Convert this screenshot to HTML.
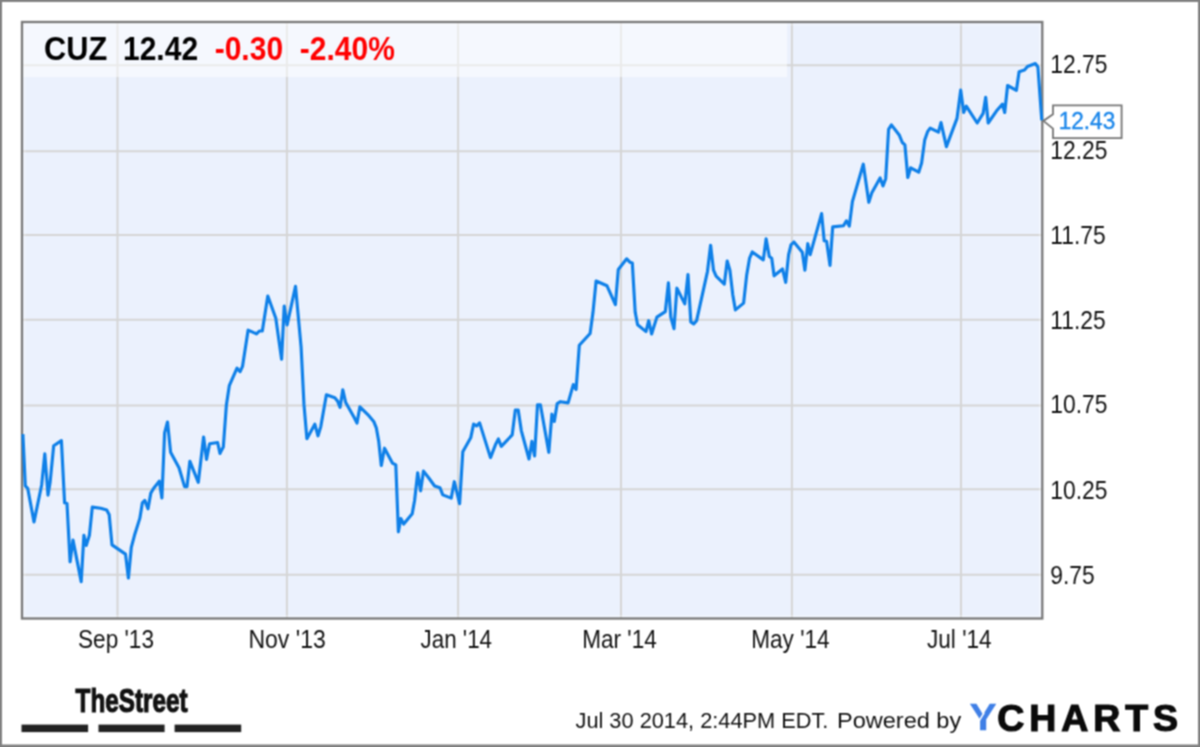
<!DOCTYPE html>
<html lang="en">
<head>
<meta charset="utf-8">
<title>CUZ Chart</title>
<style>
html,body{margin:0;padding:0;background:#fff;}
body{width:1200px;height:747px;overflow:hidden;font-family:"Liberation Sans",sans-serif;}
svg{display:block;}
svg text{font-family:"Liberation Sans",sans-serif;}
.grid line{stroke:#d5d5d5;stroke-width:2;}
</style>
</head>
<body>
<svg width="1200" height="747" viewBox="0 0 1200 747">
<defs><filter id="soft" x="0" y="0" width="1200" height="747" filterUnits="userSpaceOnUse" color-interpolation-filters="sRGB"><feConvolveMatrix order="3" kernelMatrix="1 2 1 2 4 2 1 2 1" divisor="16" edgeMode="duplicate" preserveAlpha="true"/></filter></defs>
<g filter="url(#soft)">
<rect x="0" y="0" width="1200" height="747" fill="#ffffff"/>
<!-- outer frame -->
<path d="M0 0H1200V747H0Z M2 2V744.6H1198V2Z" fill="#808080" fill-rule="evenodd"/>
<!-- plot background -->
<rect x="22" y="22" width="1020.3" height="596.5" fill="#ebf1fd"/>
<g class="grid">
<line x1="117.5" y1="23" x2="117.5" y2="618" />
<line x1="286.9" y1="23" x2="286.9" y2="618" />
<line x1="458.1" y1="23" x2="458.1" y2="618" />
<line x1="621" y1="23" x2="621" y2="618" />
<line x1="791.9" y1="23" x2="791.9" y2="618" />
<line x1="961" y1="23" x2="961" y2="618" />
<line x1="23" y1="65.2" x2="1042" y2="65.2" />
<line x1="23" y1="151.2" x2="1042" y2="151.2" />
<line x1="23" y1="235" x2="1042" y2="235" />
<line x1="23" y1="319.8" x2="1042" y2="319.8" />
<line x1="23" y1="405.4" x2="1042" y2="405.4" />
<line x1="23" y1="489.2" x2="1042" y2="489.2" />
<line x1="23" y1="574.8" x2="1042" y2="574.8" />
</g>
<!-- header overlay -->
<rect x="23" y="23" width="764" height="54" fill="#ffffff" fill-opacity="0.5"/>
<!-- inner highlight + plot border -->
<rect x="24.4" y="24.4" width="1015.6" height="591.8" fill="none" stroke="#ffffff" stroke-opacity="0.35" stroke-width="2"/>
<rect x="22" y="22" width="1020.3" height="596.5" fill="none" stroke="#787878" stroke-width="2.3"/>
<!-- price line -->
<polyline fill="none" stroke="#0f80e8" stroke-width="3.15" stroke-linejoin="round" stroke-linecap="butt" points="22.9,434.1 25.3,485.9 27.7,488.3 34.0,522.0 41.7,484.7 44.8,453.9 48.0,495.1 50.1,482.3 53.7,445.7 61.4,440.6 64.6,502.8 67.0,503.5 70.1,561.8 73.0,540.1 81.2,581.6 83.9,535.3 86.3,545.4 89.4,535.3 92.3,507.1 100.7,508.3 106.7,510.0 109.2,514.8 112.0,544.9 125.5,554.1 128.4,578.0 131.3,547.3 134.5,535.3 139.8,518.4 142.4,502.8 144.8,500.4 148.0,508.8 150.8,493.1 153.7,488.3 159.3,481.1 161.9,498.0 164.6,432.9 167.5,422.0 170.6,452.2 179.0,467.8 184.6,486.6 187.0,486.6 189.9,461.3 198.3,482.3 203.6,437.0 206.5,459.4 209.6,443.7 217.6,442.5 220.0,453.4 220.1,453.1 223.3,447.1 226.4,404.9 229.3,385.7 237.0,368.1 240.1,371.7 242.5,366.4 248.1,330.2 251.0,331.4 256.5,333.9 259.4,331.0 262.3,331.0 267.8,296.0 275.8,318.2 281.6,359.2 284.2,306.1 287.1,324.9 295.5,286.4 301.1,347.1 304.0,404.9 306.9,438.7 314.8,424.2 318.0,435.8 320.8,426.6 326.4,394.8 334.8,397.7 337.7,401.3 340.1,407.3 342.8,389.8 345.7,402.5 353.9,417.0 357.0,423.0 359.9,406.9 367.8,414.6 373.9,421.8 376.3,427.8 378.7,441.1 381.3,465.5 384.5,448.2 392.4,463.1 395.8,464.8 398.4,531.8 400.8,518.6 403.7,524.1 412.2,513.7 414.6,500.5 417.7,472.8 420.6,490.8 423.5,471.1 429.0,478.3 434.6,486.0 439.9,487.7 442.8,494.9 451.2,498.1 454.3,481.7 459.6,503.6 462.8,451.8 470.7,437.8 473.6,424.1 476.7,425.8 479.6,422.9 490.5,457.6 495.8,443.9 498.4,439.0 501.3,446.3 512.2,434.9 515.3,410.1 518.2,410.1 521.3,430.6 529.0,459.0 531.9,441.4 534.6,455.9 537.5,404.8 540.4,404.8 548.8,452.3 551.9,414.2 554.3,421.4 557.2,403.6 560.4,401.7 568.1,402.9 573.3,384.6 576.1,389.4 579.3,345.3 590.1,333.5 593.0,312.3 596.1,281.0 607.0,285.8 615.4,304.6 618.3,269.4 626.7,258.8 629.9,262.2 632.3,262.9 635.2,312.3 637.6,324.8 646.0,331.6 648.7,320.7 651.6,334.0 656.9,317.1 665.3,311.6 668.4,282.9 670.8,317.1 674.0,328.7 676.9,288.2 684.8,303.9 688.0,274.5 690.8,321.9 693.7,323.9 696.6,320.7 707.5,271.3 710.6,245.3 713.5,270.1 716.1,276.1 724.3,284.1 727.2,261.0 729.9,270.1 732.8,294.9 735.4,309.9 743.6,303.1 746.7,274.9 749.6,258.1 752.3,252.0 763.3,259.9 766.1,238.9 769.3,256.5 771.7,258.2 774.1,275.8 782.5,269.0 785.7,282.3 788.6,254.6 791.0,244.9 793.9,242.0 802.3,252.2 804.9,270.2 807.8,243.7 810.2,254.6 821.6,213.6 824.2,240.8 826.6,241.3 830.0,265.4 832.7,226.9 843.5,225.7 846.4,220.8 849.3,226.1 852.4,201.6 863.3,164.2 868.8,202.3 871.7,193.1 880.1,178.0 883.0,185.9 885.7,178.7 888.6,129.3 891.4,124.9 899.4,135.3 902.3,142.5 904.9,144.9 907.8,177.5 910.7,167.8 918.7,172.2 921.6,163.0 924.7,140.1 927.6,131.7 930.2,128.1 938.4,132.2 941.0,122.6 946.4,146.6 957.0,118.4 960.7,90.1 963.7,112.5 966.3,106.1 977.2,123.0 983.1,113.4 985.7,97.3 988.2,123.0 996.6,110.8 1002.5,104.1 1004.7,112.5 1007.6,85.5 1016.4,90.3 1019.1,71.7 1024.5,70.0 1027.5,66.5 1035.4,63.6 1037.9,67.0 1041.8,120.3"/>
<g class="hdr">
<text transform="translate(44 60.4) scale(1.025 1.12)" font-size="30" fill="#000" font-weight="bold">CUZ</text>
<text transform="translate(123 60.4) scale(1.0 1.12)" font-size="30" fill="#000" font-weight="bold">12.42</text>
<text transform="translate(214.7 60.4) scale(1.0 1.12)" font-size="30" fill="#f00" font-weight="bold">-0.30</text>
<text transform="translate(299.8 60.4) scale(1.0 1.12)" font-size="30" fill="#f00" font-weight="bold">-2.40%</text>
</g>
<g class="ylab">
<text transform="translate(1050.3 73.0) scale(1.01 1.11)" font-size="22.6" fill="#111">12.75</text>
<text transform="translate(1050.3 158.7) scale(1.01 1.11)" font-size="22.6" fill="#111">12.25</text>
<text transform="translate(1050.3 244.0) scale(1.01 1.11)" font-size="22.6" fill="#111">11.75</text>
<text transform="translate(1050.3 329.3) scale(1.01 1.11)" font-size="22.6" fill="#111">11.25</text>
<text transform="translate(1050.3 413.0) scale(1.01 1.11)" font-size="22.6" fill="#111">10.75</text>
<text transform="translate(1050.3 498.7) scale(1.01 1.11)" font-size="22.6" fill="#111">10.25</text>
<text transform="translate(1050.3 584.0) scale(1.01 1.11)" font-size="22.6" fill="#111">9.75</text>
</g>
<g class="xlab">
<text transform="translate(116.0 647.9) scale(1.0 1.12)" font-size="22.6" fill="#111" text-anchor="middle">Sep '13</text>
<text transform="translate(287.1 647.9) scale(1.02 1.12)" font-size="22.6" fill="#111" text-anchor="middle">Nov '13</text>
<text transform="translate(456.3 647.9) scale(0.99 1.12)" font-size="22.6" fill="#111" text-anchor="middle">Jan '14</text>
<text transform="translate(619.5 647.9) scale(1.0 1.12)" font-size="22.6" fill="#111" text-anchor="middle">Mar '14</text>
<text transform="translate(790.4 647.9) scale(1.0 1.12)" font-size="22.6" fill="#111" text-anchor="middle">May '14</text>
<text transform="translate(959.3 647.9) scale(1.0 1.12)" font-size="22.6" fill="#111" text-anchor="middle">Jul '14</text>
</g>
<!-- last value tag -->
<path d="M1053 105.3H1121.6V138.2H1053V128.6L1043.4 120.9L1053 114.3Z" fill="#ffffff" stroke="#747474" stroke-width="1.8" stroke-linejoin="miter"/>
<text transform="translate(1058.7 129.0) scale(1.0 1.05)" font-size="22.6" fill="#1a86ea" stroke="#1a86ea" stroke-width="0.4">12.43</text>
<!-- TheStreet logo -->
<text x="75.6" y="711.7" font-size="33.5" font-weight="bold" fill="#111" stroke="#111" stroke-width="1.2" textLength="112" lengthAdjust="spacingAndGlyphs">TheStreet</text>
<rect x="21.5" y="724.6" width="66.6" height="7.5" fill="#222"/>
<rect x="98.5" y="724.6" width="66.1" height="7.5" fill="#222"/>
<rect x="174.6" y="724.6" width="66.6" height="7.5" fill="#222"/>
<!-- footer -->
<text transform="translate(575.5 728) scale(0.99 1.0)" font-size="22" fill="#111">Jul 30 2014, 2:44PM EDT.</text>
<text transform="translate(837 728) scale(1.07 1.0)" font-size="22" fill="#111">Powered by</text>
<text transform="translate(969.4 729.9) scale(1.1 0.985)" font-size="37" font-weight="bold" fill="#3f7fe6" stroke="#3f7fe6" stroke-width="0.3">Y</text>
<path d="M984.2 712.6L978.6 721.6" stroke="#ffffff" stroke-width="1.7" fill="none"/>
<text x="997.2" y="730.7" font-size="37.5" font-weight="bold" fill="#0a0a0a" stroke="#0a0a0a" stroke-width="1.2" textLength="180.8" lengthAdjust="spacing">CHARTS</text>
</g>
</svg>
</body>
</html>
